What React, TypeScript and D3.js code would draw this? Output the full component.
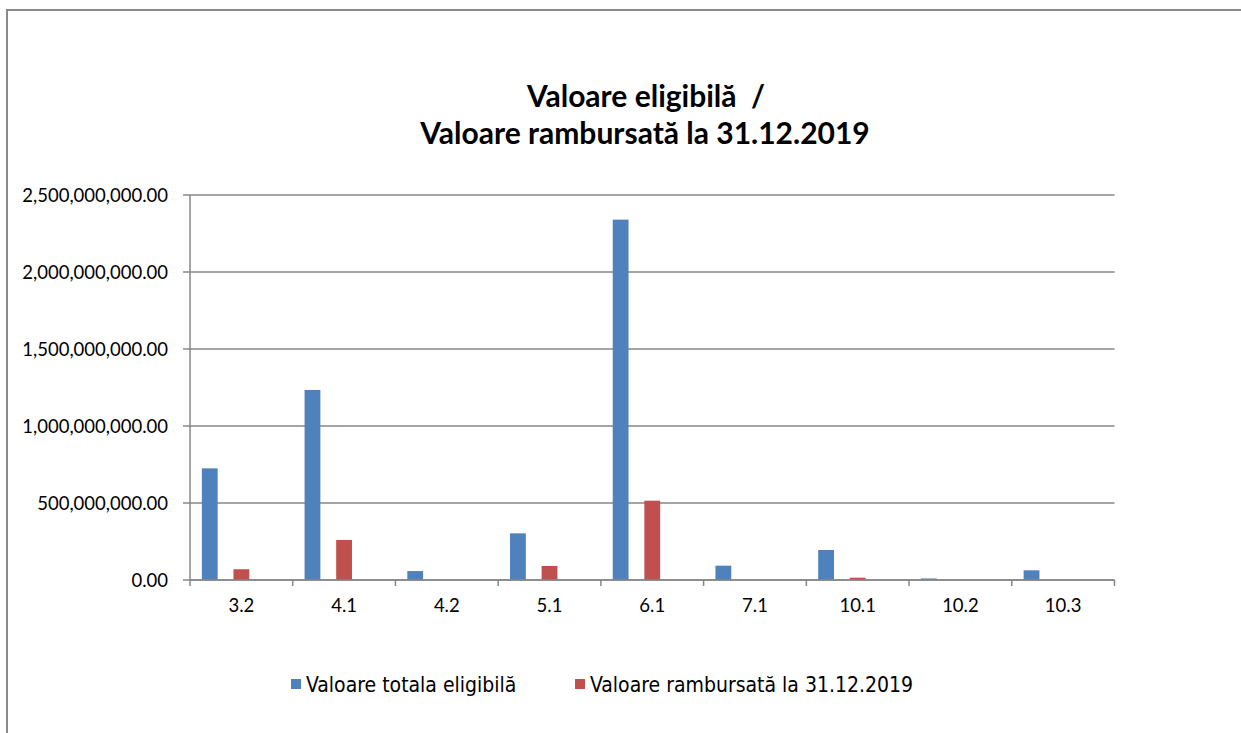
import React from 'react'
import * as d3 from 'd3'

const categories = ['3.2', '4.1', '4.2', '5.1', '6.1', '7.1', '10.1', '10.2', '10.3']
const eligibila = [725e6, 1234e6, 58e6, 303e6, 2340e6, 93e6, 195e6, 10e6, 63e6]
const rambursata = [70e6, 260e6, 0, 91e6, 515e6, 0, 15e6, 0, 0]
const yTicks = [0, 500e6, 1000e6, 1500e6, 2000e6, 2500e6]

// the workbook has 5 series slots per category, only two of them hold data
const slots = ['eligibila', 'gol1', 'rambursata', 'gol2', 'gol3']
const series = [
  { key: 'eligibila', name: 'Valoare totala eligibilă', color: '#4F81BD', values: eligibila },
  { key: 'rambursata', name: 'Valoare rambursată la 31.12.2019', color: '#C0504D', values: rambursata },
]

const fmt = d3.format(',.2f')

function App() {
  const width = 1241
  const height = 733
  const left = 190
  const right = 1114.5
  const top = 195
  const bottom = 580

  const x0 = d3.scaleBand().domain(categories).range([left, right])
  const x1 = d3.scaleBand().domain(slots).range([0, x0.bandwidth()]).paddingInner(0).paddingOuter(0.75)
  const y = d3.scaleLinear().domain([0, 2500e6]).range([bottom, top])

  const grey = '#878787'
  const tickFont = "Lato, 'Open Sans', sans-serif"
  const legendFont = "'DejaVu Sans Condensed', 'DejaVu Sans', sans-serif"

  const boundaries = categories.map(c => x0(c) as number).concat([right])

  return (
    <svg width={width} height={height} style={{ position: 'absolute', left: 0, top: 0, background: '#fff' }}>
      {/* outer frame */}
      <line x1={7} x2={width} y1={10} y2={10} stroke="#8a8a8a" strokeWidth={2} />
      <line x1={7} x2={7} y1={9} y2={height} stroke="#8a8a8a" strokeWidth={2} />

      <text x={646} y={107} textAnchor="middle" fontFamily={tickFont} fontWeight="bold" fontSize={30}
        style={{ whiteSpace: 'pre' }}>
        {'Valoare eligibilă  /'}
      </text>
      <text x={645} y={144} textAnchor="middle" fontFamily={tickFont} fontWeight="bold" fontSize={30}>
        Valoare rambursată la 31.12.2019
      </text>

      {yTicks.map(t => (
        <g key={t}>
          <line x1={left} x2={right} y1={y(t)} y2={y(t)} stroke={grey} strokeWidth={1.5} />
          <line x1={left - 7} x2={left} y1={y(t)} y2={y(t)} stroke={grey} strokeWidth={1.5} />
          <text x={168} y={y(t) + 6.5} textAnchor="end" fontFamily={tickFont} fontSize={18.5} fill="#000">
            {fmt(t)}
          </text>
        </g>
      ))}
      <line x1={left} x2={left} y1={top} y2={bottom} stroke={grey} strokeWidth={1.5} />

      {series.map(s =>
        categories.map((c, i) => {
          const v = s.values[i]
          if (!v) return null
          return (
            <rect key={s.key + c}
              x={(x0(c) as number) + (x1(s.key) as number)}
              y={y(v)}
              width={x1.bandwidth()}
              height={bottom - y(v)}
              fill={s.color} />
          )
        })
      )}

      <line x1={left} x2={right} y1={bottom} y2={bottom} stroke={grey} strokeWidth={1.5} />
      {boundaries.map((b, i) => (
        <line key={i} x1={b} x2={b} y1={bottom} y2={bottom + 6} stroke={grey} strokeWidth={1.5} />
      ))}
      {categories.map(c => (
        <text key={c} x={(x0(c) as number) + x0.bandwidth() / 2} y={612} textAnchor="middle"
          fontFamily={tickFont} fontSize={18.5} fill="#000">
          {c}
        </text>
      ))}

      <g>
        <rect x={291} y={679} width={10} height={10} fill={series[0].color} />
        <text x={306} y={692} fontFamily={legendFont} fontSize={21} fill="#000">{series[0].name}</text>
        <rect x={575} y={679} width={10} height={10} fill={series[1].color} />
        <text x={590} y={692} fontFamily={legendFont} fontSize={21} fill="#000">{series[1].name}</text>
      </g>
    </svg>
  )
}

export default App
